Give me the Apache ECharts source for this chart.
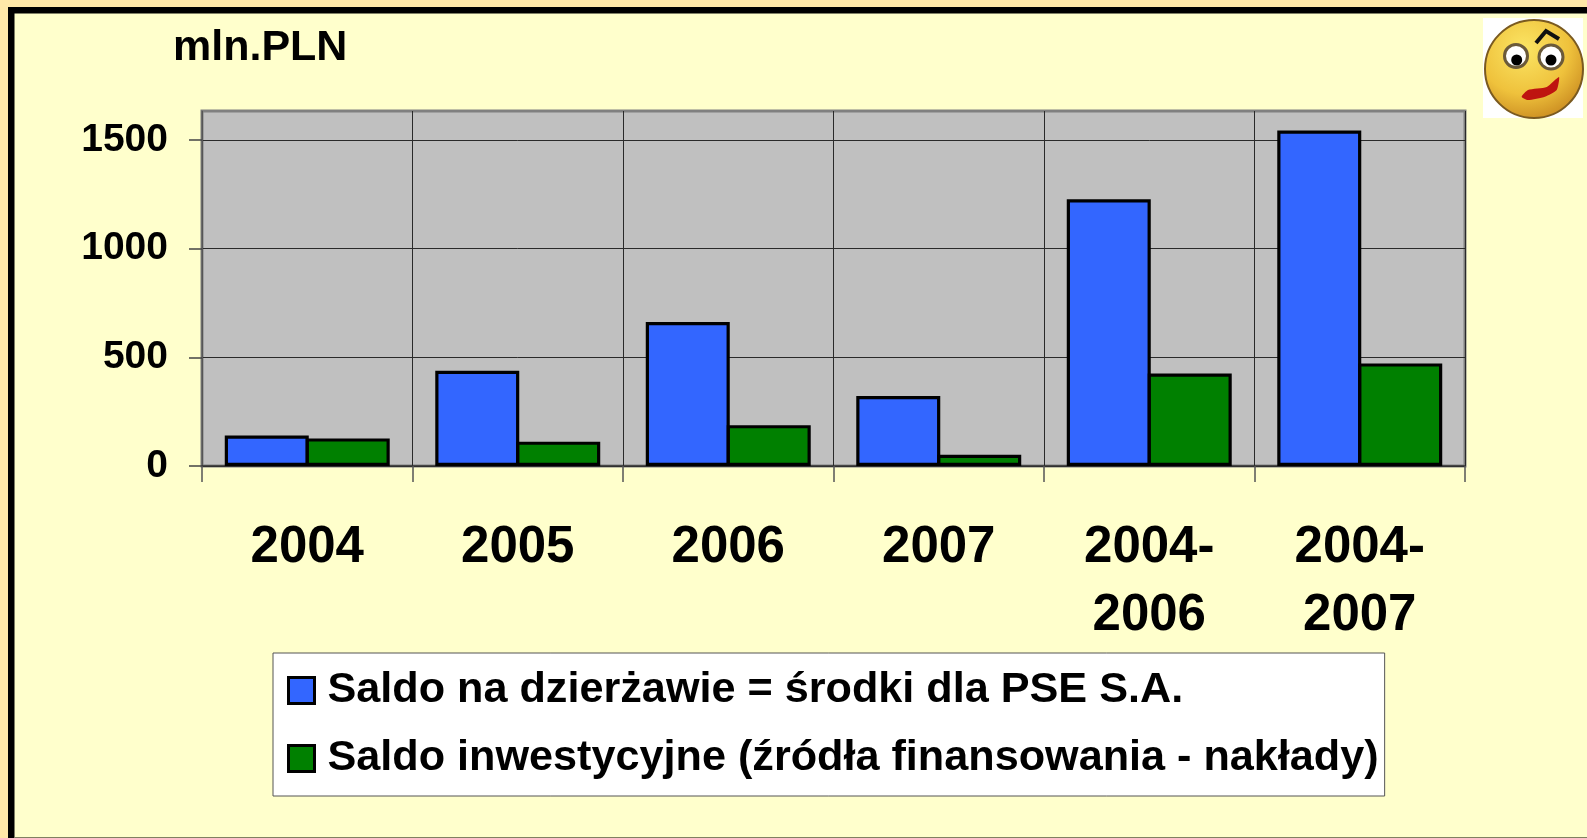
<!DOCTYPE html>
<html><head><meta charset="utf-8">
<style>html,body{margin:0;padding:0;background:#FFE8A8;}#c{width:1587px;height:838px;}</style>
<script src="https://cdn.jsdelivr.net/npm/echarts@6/dist/echarts.min.js"></script>
</head><body><div id="c"></div>
<script>
const categories = ['2004','2005','2006','2007','2004-\n2006','2004-\n2007'];
const saldoDzierzawa = [140,438,662,322,1227,1543];
const saldoInwestycyjne = [127,112,188,52,425,472];
const yTicks = [0,500,1000,1500];
const unitLabel = 'mln.PLN';
const seriesNames = ['Saldo na dzierżawie = środki dla PSE S.A.','Saldo inwestycyjne (źródła finansowania - nakłady)'];
const FONT = '"Liberation Sans", Arial, sans-serif';
const chart = echarts.init(document.getElementById('c'), null, {renderer:'canvas'});
const frame = [
 {type:'rect',silent:true,z:-10,shape:{x:8,y:7,width:1579,height:831},style:{fill:'#FFFFCC'}},
 {type:'rect',silent:true,z:-9,shape:{x:8,y:7,width:1579,height:6.5},style:{fill:'#000'}},
 {type:'rect',silent:true,z:-9,shape:{x:8,y:7,width:6.5,height:831},style:{fill:'#000'}},
 {type:'rect',silent:true,z:-9,shape:{x:14.5,y:837,width:1573,height:1},style:{fill:'#808060'}}
];
const smiley = {type:'group',z:20,silent:true,children:[
 {type:'rect',shape:{x:1483,y:18,width:100,height:100},style:{fill:'#fff'}},
 {type:'circle',shape:{cx:1534,cy:69,r:49},style:{stroke:'#7A5A20',lineWidth:2,fill:new echarts.graphic.RadialGradient(0.4,0.3,0.75,[{offset:0,color:'#FBE564'},{offset:0.6,color:'#EFC23C'},{offset:1,color:'#C98A20'}])}},
 {type:'circle',shape:{cx:1516,cy:56,r:11.5},style:{fill:'#fff',stroke:'#6b5a3a',lineWidth:3}},
 {type:'circle',shape:{cx:1551,cy:57,r:12},style:{fill:'#fff',stroke:'#6b5a3a',lineWidth:3}},
 {type:'circle',shape:{cx:1516.7,cy:60,r:5.5},style:{fill:'#000'}},
 {type:'circle',shape:{cx:1551,cy:60,r:5.5},style:{fill:'#000'}},
 {type:'polyline',shape:{points:[[1536,43],[1546,31],[1559,39]]},style:{stroke:'#111',lineWidth:4,fill:null}},
 {type:'polygon',shape:{smooth:0.2,points:[[1521.7,96.7],[1528,90],[1546.7,87],[1559,77],[1556.7,90],[1545,96.7],[1528,100]]},style:{fill:'#BE1410'}}
]};
chart.setOption({
 animation:false,
 backgroundColor:'transparent',
 title:{text:unitLabel,left:173,top:27,padding:0,textStyle:{fontFamily:FONT,fontWeight:'bold',fontSize:43,color:'#000'}},
 grid:{left:202,right:122,top:111,bottom:372,show:true,backgroundColor:'#C0C0C0',borderColor:'#808080',borderWidth:3,containLabel:false},
 legend:{orient:'vertical',left:273,top:653,padding:[16,6,16,14],itemGap:25,itemWidth:26,itemHeight:26,icon:'rect',
  backgroundColor:'#fff',borderColor:'#555',borderWidth:1,selectedMode:false,
  itemStyle:{borderColor:'#000',borderWidth:3},
  textStyle:{fontFamily:FONT,fontWeight:'bold',fontSize:43.2,color:'#000',padding:[0,0,0,8]},
  data:seriesNames},
 xAxis:{type:'category',data:categories,boundaryGap:true,
  axisLine:{show:true,onZero:false,lineStyle:{color:'#333',width:1.5}},
  axisTick:{show:true,length:16,alignWithLabel:false,lineStyle:{color:'#555',width:1.5}},
  splitLine:{show:true,lineStyle:{color:'#2a2a2a',width:1}},
  axisLabel:{interval:0,margin:48,lineHeight:68,fontFamily:FONT,fontWeight:'bold',fontSize:51,color:'#000'}},
 yAxis:{type:'value',min:0,max:1633,interval:500,
  axisLine:{show:true,lineStyle:{color:'#666',width:1.5}},
  axisTick:{show:true,length:13,customValues:yTicks,lineStyle:{color:'#444',width:1.5}},
  splitLine:{show:true,lineStyle:{color:'#2a2a2a',width:1}},
  axisLabel:{margin:34,customValues:yTicks,formatter:v=>String(v),fontFamily:FONT,fontWeight:'bold',fontSize:39,color:'#000'}},
 series:[
  {name:seriesNames[0],type:'bar',data:saldoDzierzawa,barWidth:84,barGap:'-3.6%',itemStyle:{color:'#3366FF',borderColor:'#000',borderWidth:3.2}},
  {name:seriesNames[1],type:'bar',data:saldoInwestycyjne,barWidth:84,barGap:'-3.6%',itemStyle:{color:'#008000',borderColor:'#000',borderWidth:3.2}}
 ],
 graphic:frame.concat([smiley])
});
</script></body></html>
